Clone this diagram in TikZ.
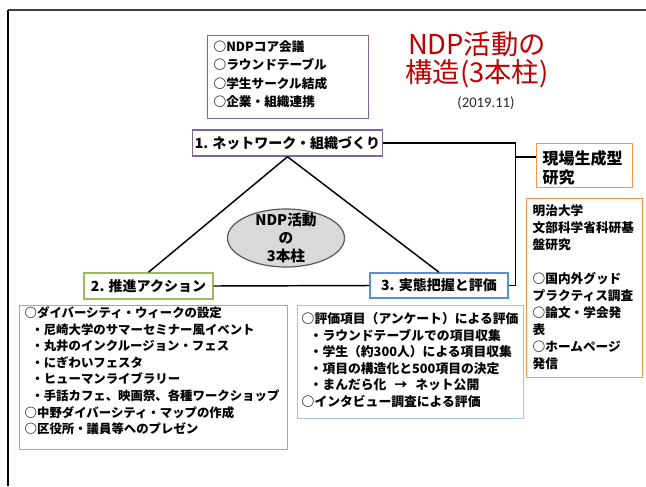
\documentclass[tikz,border=0pt]{standalone}
\usepackage{fontspec}
\setmainfont{Noto Sans CJK JP}
\newfontfamily\calib{Carlito}
\usetikzlibrary{shapes.geometric}
\definecolor{purp}{HTML}{8064A2}
\definecolor{grn}{HTML}{9BBB59}
\definecolor{blu}{HTML}{5B8FD0}
\definecolor{lblu}{HTML}{A3C1E6}
\definecolor{orng}{HTML}{F79646}
\definecolor{titred}{HTML}{C00000}
\tikzset{
  box/.style={draw, line width=1.1pt, fill=white, inner sep=0pt},
  lblbox/.style={box, font=\bfseries\fontsize{10.5pt}{12pt}\selectfont},
  txtbox/.style={box, align=left, anchor=north west, inner ysep=0pt},
  conn/.style={draw=black, line width=1.1pt},
}
\begin{document}
\begin{tikzpicture}[x=0.75pt,y=-0.75pt]
\useasboundingbox (0,0) rectangle (646,486);
% slide frame
\draw[line width=1.5pt, black!75] (8,9.5) -- (646,9.5);
\draw[line width=1.2pt, black] (8,9.5) -- (8,486);

% title
\node[font=\fontsize{20.5pt}{21pt}\selectfont, text=titred, align=center] (title) at (477,60) {NDP活動の\\構造(3本柱)};
\node[font=\calib\fontsize{11pt}{13pt}\selectfont, text=black!85] (date) at (486,103) {(2019.11)};

% top list box
\node[txtbox, draw=purp, line width=0.9pt, font=\bfseries\fontsize{9.5pt}{13.75pt}\selectfont,
      inner xsep=4.5pt, text width=111.75pt, text height=11.85pt, text depth=50.4pt] (tb) at (207,35)
  {○NDPコア会議\\○ラウンドテーブル\\○学生サークル結成\\○企業・組織連携};

% three pillars
\node[lblbox, draw=purp, minimum width=142.5pt, minimum height=19.5pt] (n1) at (287.5,143) {1. ネットワーク・組織づくり};
\node[lblbox, draw=grn, minimum width=96.75pt, minimum height=19.5pt] (n2) at (148.5,286) {2. 推進アクション};
\node[lblbox, draw=blu, minimum width=103.5pt, minimum height=18.75pt] (n3) at (439,285.5) {3. 実態把握と評価};

\node[ellipse, draw=black!65, fill=black!15, line width=0.9pt, minimum width=87.75pt, minimum height=43.5pt, inner sep=0pt,
      label={[font=\bfseries\fontsize{11pt}{13.5pt}\selectfont, align=center]center:{NDP活動\\の\\3本柱}}] (ell) at (286,238) {};

% research boxes
\node[txtbox, draw=orng, font=\bfseries\fontsize{12pt}{14.25pt}\selectfont,
      inner xsep=4.5pt, text width=63pt, text height=15.8pt, text depth=17.2pt] (gen) at (536,143)
  {現場生成型\\研究};
\node[txtbox, draw=orng, font=\bfseries\fontsize{9.5pt}{12.75pt}\selectfont,
      inner xsep=4.5pt, text width=78pt, text height=12.6pt, text depth=121.65pt] (meiji) at (526,198)
  {明治大学\\文部科学省科研基\\盤研究\\\mbox{}\\○国内外グッド\\プラクティス調査\\○論文・学会発\\表\\○ホームページ\\発信};

% action list
\node[txtbox, draw=grn, font=\bfseries\fontsize{9.3pt}{12.45pt}\selectfont,
      inner xsep=3.75pt, text width=193.5pt, text height=8.8pt, text depth=99.2pt] (act) at (19,305)
  {○ダイバーシティ・ウィークの設定\\
   \hspace*{5pt}・尼崎大学のサマーセミナー風イベント\\
   \hspace*{5pt}・丸井のインクルージョン・フェス\\
   \hspace*{5pt}・にぎわいフェスタ\\
   \hspace*{5pt}・ヒューマンライブラリー\\
   \hspace*{5pt}・手話カフェ、映画祭、各種ワークショップ\\
   ○中野ダイバーシティ・マップの作成\\
   ○区役所・議員等へのプレゼン};

% evaluation list
\node[txtbox, draw=lblu, font=\bfseries\fontsize{9.6pt}{12.375pt}\selectfont,
      inner xsep=3pt, text width=163.5pt, text height=13.4pt, text depth=71.3pt] (eval) at (297,305)
  {○評価項目（アンケート）による評価\\
   \hspace*{6pt}・ラウンドテーブルでの項目収集\\
   \hspace*{6pt}・学生（約300人）による項目収集\\
   \hspace*{6pt}・項目の構造化と500項目の決定\\
   \hspace*{6pt}・まんだら化\hspace{6pt}→\hspace{6pt}ネット公開\\
   ○インタビュー調査による評価};

% connectors
\coordinate (c2) at (515.5,285.5);
\coordinate (c3) at (515.5,157);
\draw[conn] (n1.south) -- (n2.north);
\draw[conn] (n1.south) -- (n3.north);
\draw[conn] (n2.east) -- (n3.west);
\draw[conn] (n1.east) -| (c2) -- (n3.east);
\draw[conn] (c3) -- (c3 -| gen.west);
\end{tikzpicture}
\end{document}
